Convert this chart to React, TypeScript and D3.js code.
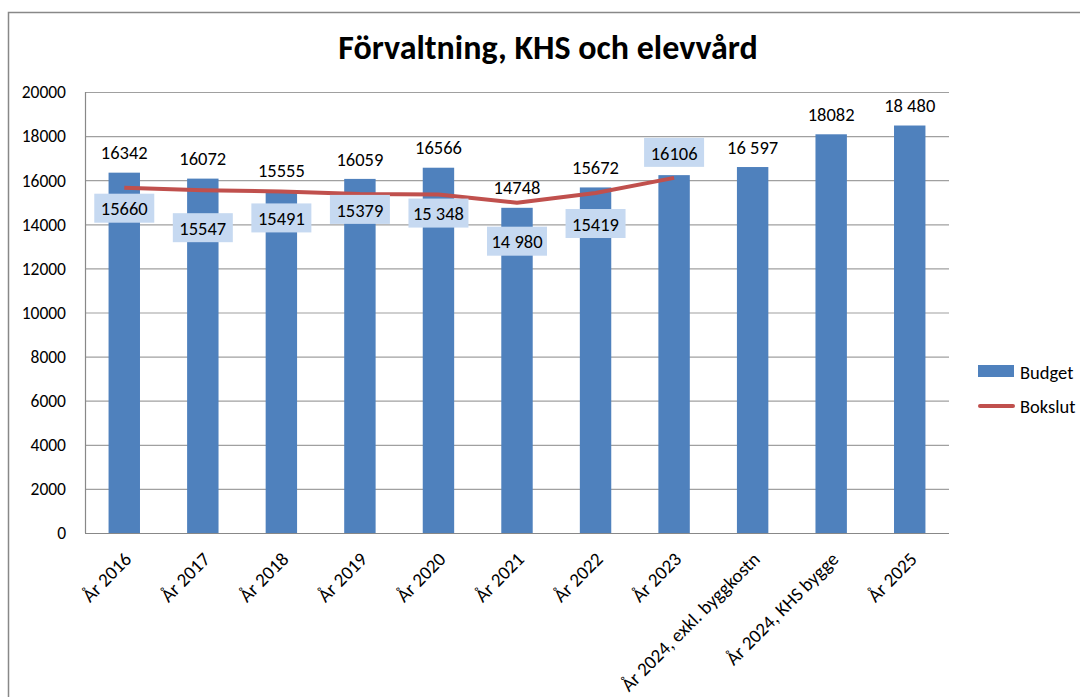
import { useEffect } from 'react'
import * as d3 from 'd3'

const categories = [
  'År 2016', 'År 2017', 'År 2018', 'År 2019', 'År 2020', 'År 2021',
  'År 2022', 'År 2023', 'År 2024, exkl. byggkostn', 'År 2024, KHS bygge', 'År 2025',
]
const budget = [16342, 16072, 15555, 16059, 16566, 14748, 15672, 16230, 16597, 18082, 18480]
const budgetLabels = ['16342', '16072', '15555', '16059', '16566', '14748', '15672', '', '16 597', '18082', '18 480']
const bokslut = [15660, 15547, 15491, 15379, 15348, 14980, 15419, 16106]
const bokslutLabels = ['15660', '15547', '15491', '15379', '15 348', '14 980', '15419', '16106']
const yTicks = [0, 2000, 4000, 6000, 8000, 10000, 12000, 14000, 16000, 18000, 20000]

// hand-placed label offsets (px) below/above the line points, as in the source
const bokslutLabelDy = [21, 38, 27, 16, 19, 39, 31, -25]

const W = 1080
const H = 697
const FONT = 'Calibri, Carlito, Lato, sans-serif'
const margin = { top: 92, right: 131, bottom: 164, left: 85 }

export default function App() {
  useEffect(() => {
    document.body.style.margin = '0'
  }, [])

  const innerW = W - margin.left - margin.right
  const innerH = H - margin.top - margin.bottom

  const x = d3.scaleBand<string>().domain(categories).range([0, innerW]).paddingInner(0.6).paddingOuter(0.3)
  const y = d3.scaleLinear().domain([0, 20000]).range([innerH, 0])
  const cx = (i: number) => (x(categories[i]) ?? 0) + x.bandwidth() / 2

  const line = d3
    .line<number>()
    .x((_, i) => cx(i))
    .y((d) => y(d))

  return (
    <svg width={W} height={H} style={{ display: 'block', background: '#fff' }} fontFamily={FONT}>
      {/* chart frame */}
      <rect x={8.5} y={12.5} width={W + 10} height={H + 10} fill="#fff" stroke="#888" strokeWidth={1.5} />

      <text x={548} y={59} textAnchor="middle" fontSize={34} fontWeight="bold" fill="#000">
        Förvaltning, KHS och elevvård
      </text>

      <g transform={`translate(${margin.left},${margin.top})`}>
        {/* grid + y labels */}
        {yTicks.map((t) => (
          <g key={t}>
            <line x1={0} x2={innerW} y1={y(t) + 0.5} y2={y(t) + 0.5} stroke="#a0a0a0" strokeWidth={1.2} />
            <text x={-19} y={y(t)} dy="0.36em" textAnchor="end" fontSize={17.5} fill="#000">
              {t}
            </text>
          </g>
        ))}
        <line x1={0.5} x2={0.5} y1={0} y2={innerH} stroke="#888" strokeWidth={1.2} />

        {/* bars */}
        {budget.map((v, i) => (
          <rect key={i} x={x(categories[i])} y={y(v)} width={x.bandwidth()} height={innerH - y(v)} fill="#4f81bd" />
        ))}
        {budget.map((v, i) =>
          budgetLabels[i] ? (
            <text key={i} x={cx(i)} y={y(v) - 20} dy="0.36em" textAnchor="middle" fontSize={18.5} fill="#000">
              {budgetLabels[i]}
            </text>
          ) : null
        )}

        {/* Bokslut line */}
        <path d={line(bokslut) ?? ''} fill="none" stroke="#c0504d" strokeWidth={4} strokeLinejoin="round" />
        {bokslut.map((v, i) => {
          const ly = y(v) + bokslutLabelDy[i]
          return (
            <g key={i}>
              <rect x={cx(i) - 30} y={ly - 15} width={60} height={29} fill="#c6d9f1" />
              <text x={cx(i)} y={ly} dy="0.36em" textAnchor="middle" fontSize={18.5} fill="#000">
                {bokslutLabels[i]}
              </text>
            </g>
          )
        })}

        {/* x axis */}
        <line x1={0} x2={innerW} y1={innerH + 0.5} y2={innerH + 0.5} stroke="#888" strokeWidth={1.2} />
        {categories.map((c, i) => (
          <text
            key={c}
            transform={`translate(${cx(i) - 1},${innerH + 18}) rotate(-45)`}
            textAnchor="end"
            dy="0.7em"
            fontSize={19}
            fill="#000"
          >
            {c}
          </text>
        ))}
      </g>

      {/* legend */}
      <rect x={978} y={365} width={36} height={12} fill="#4f81bd" />
      <text x={1020} y={372} dy="0.36em" fontSize={18.5} fill="#000">Budget</text>
      <line x1={980} x2={1013} y1={406} y2={406} stroke="#c0504d" strokeWidth={4} strokeLinecap="round" />
      <text x={1020} y={406} dy="0.36em" fontSize={18.5} fill="#000">Bokslut</text>
    </svg>
  )
}
